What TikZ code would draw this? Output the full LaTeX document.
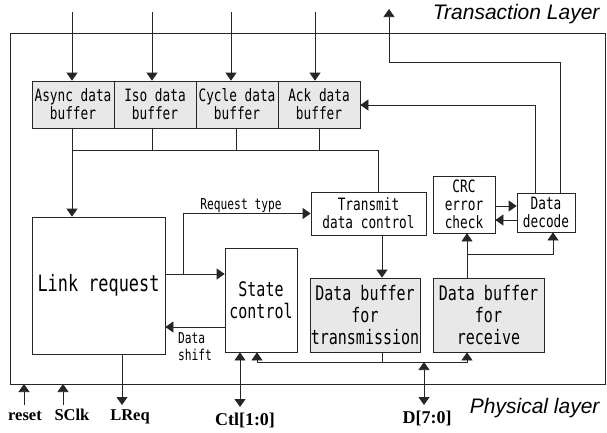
\documentclass[tikz,border=0pt]{standalone}
\usepackage{fontspec}
\setmainfont{Liberation Serif}
\newfontfamily\boxfont{DejaVu Sans Mono}[FakeStretch=0.75]
\newfontfamily\layerfont{Liberation Sans}
\usetikzlibrary{arrows.meta,calc}

\tikzset{
  wire/.style={draw=black!85, line width=0.75pt},
  arr/.style={wire, -{Triangle[length=8pt,width=11pt]}},
  darr/.style={wire, {Triangle[length=8pt,width=11pt]}-{Triangle[length=8pt,width=11pt]}},
  blk/.style={draw=black!85, line width=0.75pt, inner sep=0pt, align=center},
  buf/.style={blk, fill=black!9},
  fs15/.style={font=\boxfont\fontsize{15}{17}\selectfont},
  fs17/.style={font=\boxfont\fontsize{17}{18}\selectfont},
  fs19/.style={font=\boxfont\fontsize{20}{22}\selectfont},
  fs22/.style={font=\boxfont\fontsize{22.5}{24}\selectfont},
  pin/.style={font=\bfseries\fontsize{16.5}{16.5}\selectfont, anchor=base},
  bigpin/.style={pin, font=\bfseries\fontsize{18}{18}\selectfont},
  layer/.style={font=\layerfont\itshape\fontsize{21}{21}\selectfont, anchor=base east},
}

\begin{document}
\begin{tikzpicture}[x=1pt,y=-1pt]
\useasboundingbox (0,0) rectangle (607,432);

% link layer frame
\coordinate (fnw) at (10,33);
\coordinate (fse) at (605,384);
\draw[wire] (fnw) rectangle (fse);

% transaction-side buffers
\node[buf, fs17, minimum width=82pt, minimum height=47pt] (async) at (73,104.5) {Async data\\buffer};
\node[buf, fs17, minimum width=82pt, minimum height=47pt] (iso)   at (155,104.5) {Iso data\\buffer};
\node[buf, fs17, minimum width=82pt, minimum height=47pt] (cycle) at (237,104.5) {Cycle data\\buffer};
\node[buf, fs17, minimum width=82pt, minimum height=47pt] (ack)   at (319,104.5) {Ack data\\buffer};

% control blocks
\node[blk, fs22, minimum width=133pt, minimum height=137pt] (link)  at (98.5,285.5) {Link request};
\node[blk, fs17, minimum width=115pt, minimum height=43pt]  (trans) at (368.5,213.5) {Transmit\\data control};
\node[blk, fs19, minimum width=72pt,  minimum height=104pt] (state) at (261,300) {State\\control};
\node[buf, fs19, minimum width=110pt, minimum height=74pt]  (dbt)   at (365,315) {Data buffer\\for\\transmission};
\node[buf, fs19, minimum width=111pt, minimum height=74pt]  (dbr)   at (488.5,315) {Data buffer\\for\\receive};
\node[blk, fs17, minimum width=62pt,  minimum height=57pt]  (crc)   at (464,204.5) {CRC\\error\\check};
\node[blk, fs17, minimum width=58pt,  minimum height=39pt]  (dec)   at (546,212.5) {Data\\decode};

% inputs from the transaction layer
\coordinate (inA) at (72,12);
\coordinate (inI) at (152,12);
\coordinate (inC) at (231,12);
\coordinate (inK) at (315,12);
\draw[arr] (inA) -- (inA |- async.north);
\draw[arr] (inI) -- (inI |- iso.north);
\draw[arr] (inC) -- (inC |- cycle.north);
\draw[arr] (inK) -- (inK |- ack.north);

% buffer bus
\coordinate (busL) at (72,150);
\coordinate (busR) at (378,150);
\coordinate (bI) at (152,150);
\coordinate (bC) at (236,150);
\coordinate (bK) at (319,150);
\draw[wire] (busL) -- (busR) -- (busR |- trans.north);
\draw[wire] (bI) -- (bI |- iso.south);
\draw[wire] (bC) -- (bC |- cycle.south);
\draw[wire] (bK) -- (bK |- ack.south);
\draw[arr] (busL |- async.south) -- (busL |- link.north);

% link request outputs
\coordinate (rt) at (183,274);
\draw[arr] (link.east |- rt) -- (state.west |- rt);
\draw[arr] (rt) |- (trans.west);
\node[fs15, anchor=base] (rtlabel) at (241,209) {Request type};

\coordinate (ds) at (225,327);
\draw[arr] (ds) -- (ds -| link.east);
\node[fs15, align=left, anchor=north] (dslabel) at (195,329) {Data\\shift};

% transmit path
\coordinate (dt) at (382,362);
\draw[arr] (dt |- trans.south) -- (dt |- dbt.north);

% PHY data bus
\coordinate (db1) at (257,362);
\coordinate (db2) at (467,362);
\draw[darr] (db1 |- state.south) -- (db1) -- (db2) -- (db2 |- dbr.south);
\draw[wire] (dt) -- (dt |- dbt.south);
\coordinate (dj) at (424,362);
\coordinate (dpin) at (424,405);
\draw[darr] (dpin) -- (dj);

% receive path
\coordinate (rx) at (467,254);
\coordinate (rd) at (553,254);
\draw[arr] (rx |- dbr.north) -- (rx |- crc.south);
\draw[arr] (rx) -- (rd) -- (rd |- dec.south);
\coordinate (c1) at (495,206);
\coordinate (c2) at (517,220);
\draw[arr] (c1) -- (c1 -| dec.west);
\draw[arr] (c2) -- (c2 -| crc.east);

% decoded data back up
\coordinate (u1) at (535,105);
\draw[arr] (u1 |- dec.north) -- (u1) -- (u1 -| ack.east);
\coordinate (u2) at (560,62);
\coordinate (u3) at (389,62);
\coordinate (outT) at (389,9);
\draw[arr] (u2 |- dec.north) -- (u2) -- (u3) -- (outT);

% physical-side pins
\coordinate (rs) at (24,405);
\coordinate (sc) at (63,405);
\coordinate (lq) at (122,405);
\coordinate (ct) at (240,407);
\draw[arr] (rs) -- (rs |- fse);
\draw[arr] (sc) -- (sc |- fse);
\draw[arr] (lq |- link.south) -- (lq);
\draw[darr] (ct) -- (ct |- state.south);

\node[pin] (lreset) at (25,420) {reset};
\node[pin] (lsclk)  at (72,420) {SClk};
\node[pin] (llreq)  at (130,420) {LReq};
\node[bigpin] (lctl) at (245,425) {Ctl[1:0]};
\node[bigpin] (ld)   at (427,423) {D[7:0]};

% layer captions
\node[layer] (tl) at (603,19) {Transaction Layer};
\node[layer] (pl) at (603,413) {Physical layer};
\end{tikzpicture}
\end{document}
